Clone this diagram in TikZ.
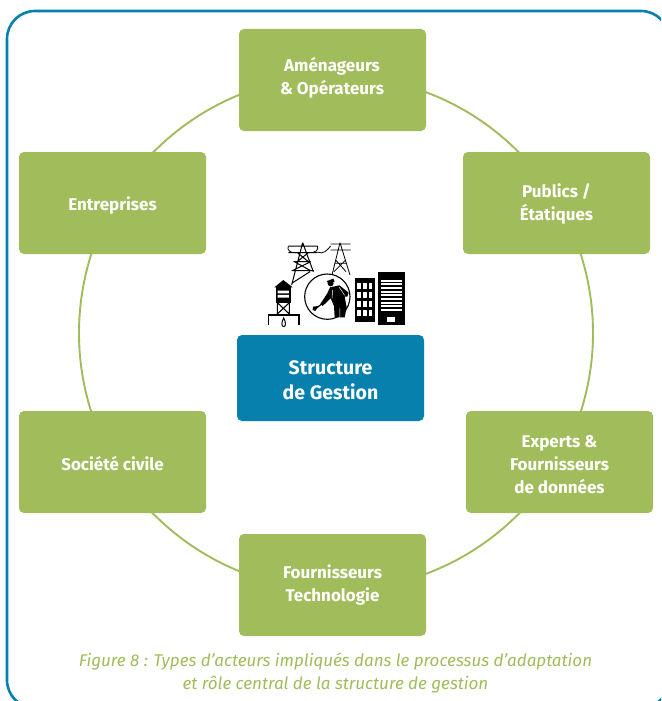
\documentclass[tikz,border=0pt]{standalone}
\usepackage{fontspec}
\setmainfont{Fira Sans}
\definecolor{grn}{HTML}{A0BC5B}
\definecolor{blu}{HTML}{0780AD}
\tikzset{
 box/.style={fill=grn,rounded corners=5pt,minimum width=187pt,minimum height=102pt,inner sep=0pt},
 boxtext/.style={text=white,align=center,inner sep=0pt,font=\fontsize{17}{23}\selectfont\bfseries},
 hubtext/.style={boxtext,font=\fontsize{19.5}{25}\selectfont\bfseries},
 hub/.style={box,fill=blu,minimum height=86pt},
 ring/.style={draw=grn,line width=1.9pt},
 frame/.style={draw=blu,line width=2.6pt,rounded corners=28pt},
 capt/.style={text=grn,align=center,font=\fontsize{17}{23.5}\selectfont\itshape}
}
\begin{document}
\begin{tikzpicture}[x=1pt,y=-1pt]
\useasboundingbox (0,0) rectangle (661,701);
\clip (0,0) rectangle (661,701);
\fill[white] (0,0) rectangle (661,701);
\draw[frame] (7,11) rectangle (669,708);
\draw[ring] (336,333) circle [radius=257];
\node[box,label={[boxtext,yshift=2pt,xshift=-0.5pt]center:{Aménageurs\\\& Opérateurs}}] (a) at (332.5,80) {};
\node[box,label={[boxtext,yshift=-1pt]center:{Publics /\\Étatiques}}] (p) at (556.5,203) {};
\node[box,label={[boxtext,yshift=-3pt]center:{Experts \&\\Fournisseurs\\de données}}] (x) at (559.5,462) {};
\node[box,label={[boxtext]center:{Fournisseurs\\Technologie}}] (f) at (332.5,585) {};
\node[box,label={[boxtext,yshift=-2pt]center:{Société civile}}] (s) at (112.5,462) {};
\node[box,label={[boxtext,yshift=-2pt]center:{Entreprises}}] (e) at (112.5,203) {};
\node[hub,label={[hubtext,yshift=-2pt]center:{Structure\\de Gestion}}] (h) at (330.5,378) {};
\node[capt] (c) at (335.5,673) {Figure 8 : Types d’acteurs impliqués dans le processus d’adaptation\\et rôle central de la structure de gestion};
\begin{scope}[shift={(240,230)},x=0.3333pt,y=-0.3333pt,line width=0.6pt,black]
 % pylons
 \draw[line width=1pt] (188,38)--(155,165) (188,38)--(220,125) (145,48)--(232,48) (145,68)--(232,68) (160,95)--(212,95) (155,122)--(222,122) (163,95)--(212,122) (212,95)--(157,122) (172,68)--(205,95) (205,68)--(172,95) (155,160)--(210,125);
 \draw[line width=0.8pt] (145,48)..controls (140,60) and (150,70)..(170,68) (232,48)..controls (238,60) and (225,70)..(205,68);
 \draw[line width=0.8pt] (300,38)--(276,135) (300,38)--(330,135) (272,42)--(332,42) (272,60)--(332,60) (284,100)--(320,100) (287,90)--(318,125) (317,90)--(282,125);
 \draw[line width=0.8pt] (232,66)..controls (250,75) and (262,60)..(272,48);
 % water tower
 \fill (103,172)--(130,150)--(158,172)--cycle;
 \fill (108,172) rectangle (152,218);
 \fill[white] (113,182) rectangle (147,190) (113,195) rectangle (147,203);
 \draw[line width=1.1pt] (112,218)--(112,252) (148,218)--(148,252) (112,218)--(148,252) (148,218)--(112,252);
 \draw[line width=1.4pt] (86,286)--(86,255)--(177,255)--(177,286);
 \draw[line width=1pt] (131,264)..controls (124,276) and (124,290)..(131,290)..controls (138,290) and (138,276)..(131,264)--cycle;
 % circle and worker
 \draw[line width=1.1pt] (262,200) circle [radius=68];
 \fill (272,160) circle [radius=9];
 \fill (261,153)--(280,146)--(284,155)--(264,160)--cycle;
 \fill (270,172)--(298,166)--(326,188)--(322,200)--(314,200)--(320,232)--(314,262)--(284,262)--(282,228)--(272,205)--(248,228)--(241,222)--(262,190)--cycle;
 \draw[white,line width=0.5pt] (278,180)--(276,205) (298,172)--(314,196) (300,235)--(300,262);
 \draw[line width=1.2pt] (245,222)--(230,234);
 \fill (236,228)--(219,230)--(218,240)--(226,243)--cycle;
 % buildings
 \fill (345,145) rectangle (406,275);
 \fill (414,127) rectangle (495,285);
 \foreach \i in {0,1,2,3}{\foreach \j in {0,1,2}{\fill[white] (352+\j*17,158+\i*27) rectangle +(11,18);}}
 \foreach \i in {0,...,8}{\fill[white] (424,149+\i*11) rectangle (486,155+\i*11);}
 \fill[white] (440,260) rectangle (466,277);
\end{scope}
\end{tikzpicture}
\end{document}
